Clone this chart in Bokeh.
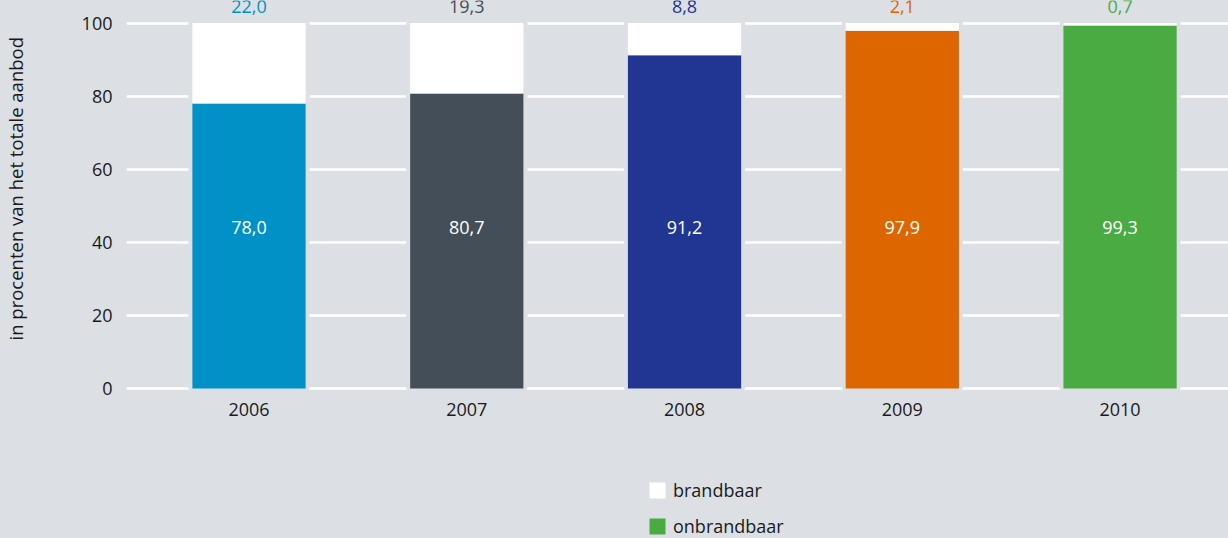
from bokeh.plotting import figure
from bokeh.layouts import column
from bokeh.models import ColumnDataSource, FixedTicker, Legend, LegendItem, Title
from bokeh.core.properties import value
from bokeh.embed import file_html
from bokeh.resources import INLINE

# ---- data ----
years = ["2006", "2007", "2008", "2009", "2010"]
onbrandbaar = [78.0, 80.7, 91.2, 97.9, 99.3]
brandbaar = [22.0, 19.3, 8.8, 2.1, 0.7]
colors = ["#0091c6", "#444e59", "#213692", "#dd6600", "#4aab42"]
y_ticks = [0, 20, 40, 60, 80, 100]
y_label = "in procenten van het totale aanbod"
legend_labels = ["brandbaar", "onbrandbaar"]

BG = "#dce0e4"
FONT = "Open Sans"
FS = "18px"
TXT = "#1a1a1a"
LABEL_Y = 44

def fmt(v):
    return f"{v:.1f}".replace(".", ",")

xs = list(range(len(years)))
src = ColumnDataSource(dict(
    x=xs,
    on=onbrandbaar,
    br=brandbaar,
    total=[a + b for a, b in zip(onbrandbaar, brandbaar)],
    zero=[0] * len(years),
    color=colors,
    on_lbl=[fmt(v) for v in onbrandbaar],
    br_lbl=[fmt(v) for v in brandbaar],
    lbl_y=[LABEL_Y] * len(years),
))

p = figure(width=1228, height=470, output_backend="svg", toolbar_location=None,
           x_range=(-0.5626, 4.498), y_range=(-1.09, 106.16),
           min_border_left=126, min_border_right=0, min_border_top=0,
           min_border_bottom=78)
p.background_fill_color = BG
p.border_fill_color = BG
p.outline_line_color = None

# backing to create gaps in grid lines around bars
p.vbar(x="x", top="total", bottom="zero", width=0.52, source=src,
       fill_color=BG, line_color=BG, line_width=8)
p.vbar(x="x", top="on", bottom="zero", width=0.52, source=src,
       fill_color="color", line_color=None)
p.vbar(x="x", top="total", bottom="on", width=0.52, source=src,
       fill_color="white", line_color=None)

p.text(x="x", y="lbl_y", text="on_lbl", source=src, text_color="white",
       text_align="center", text_baseline="middle",
       text_font=value(FONT), text_font_size=FS)
p.text(x="x", y="total", text="br_lbl", source=src, text_color="color",
       text_align="center", text_baseline="alphabetic", y_offset=-17,
       text_font=value(FONT), text_font_size=FS)

# axes
p.xgrid.grid_line_color = None
p.ygrid.grid_line_color = "white"
p.ygrid.grid_line_width = 2.5
p.yaxis.ticker = FixedTicker(ticks=y_ticks)
p.xaxis.ticker = FixedTicker(ticks=xs)
p.xaxis.major_label_overrides = {i: y for i, y in enumerate(years)}
for ax in (p.xaxis, p.yaxis):
    ax.axis_line_color = None
    ax.major_tick_line_color = None
    ax.minor_tick_line_color = None
    ax.major_tick_out = 0
    ax.major_tick_in = 0
    ax.major_label_text_font = FONT
    ax.major_label_text_font_size = FS
    ax.major_label_text_color = TXT
p.yaxis.major_label_standoff = 14
p.xaxis.major_label_standoff = 10

# spacer on the y axis, then the axis title in its own side panel
p.yaxis.axis_label = " "
p.yaxis.axis_label_text_font_size = "1px"
p.yaxis.axis_label_standoff = 47
p.add_layout(Title(text=y_label, align="left", offset=52,
                   vertical_align="bottom", standoff=0, text_font=FONT,
                   text_font_size="18.5px", text_font_style="normal",
                   text_color=TXT), "left")

# ---- legend strip ----
p2 = figure(width=1228, height=68, output_backend="svg", toolbar_location=None,
            x_range=p.x_range, y_range=(0, 1), x_axis_location=None,
            y_axis_location=None, min_border=0)
p2.background_fill_alpha = 0
p2.border_fill_color = BG
p2.outline_line_color = None
p2.grid.grid_line_color = None

r_br = p2.vbar(x="x", top="total", bottom="on", width=0.52, source=src,
               fill_color="white", line_color=None, visible=False)
r_on = p2.vbar(x="x", top="on", bottom="zero", width=0.52, source=src,
               fill_color="color", line_color=None, visible=False)

legend = Legend(items=[
    LegendItem(label=legend_labels[0], renderers=[r_br], index=0),
    LegendItem(label=legend_labels[1], renderers=[r_on], index=4),
], location=(521, 0), orientation="vertical",
    glyph_width=20, glyph_height=20, label_height=20, spacing=12,
    label_standoff=6, padding=0, margin=0, border_line_color=None,
    background_fill_alpha=0, label_text_font=FONT,
    label_text_font_size=FS, label_text_color=TXT)
p2.add_layout(legend, "center")

layout = column(p, p2, spacing=0, styles={"background-color": BG})
open("out.html", "w").write(file_html(layout, INLINE))
